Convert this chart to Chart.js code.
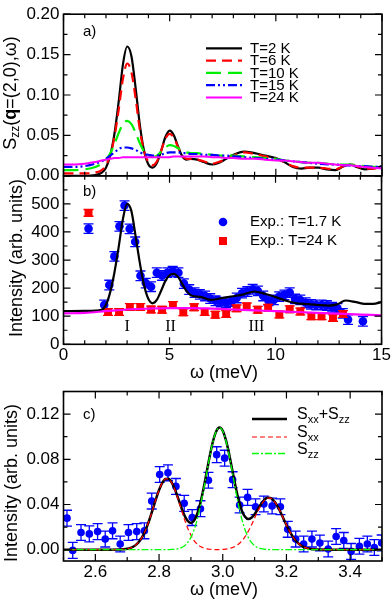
<!DOCTYPE html>
<html>
<head>
<meta charset="utf-8">
<script src="https://cdn.jsdelivr.net/npm/chart.js@4.4.1/dist/chart.umd.min.js"></script>
<style>
  html, body { margin: 0; padding: 0; background: #fff; }
  #wrap { position: relative; width: 392px; height: 600px; }
  #wrap canvas { position: absolute; left: 0; top: 0; }
</style>
</head>
<body>
<div id="wrap">
  <canvas id="chartA" width="392" height="600"></canvas>
  <canvas id="chartB" width="392" height="600"></canvas>
  <canvas id="chartC" width="392" height="600"></canvas>
</div>
<script>
// ─────────────────────────────────────────
// DATOS  panel a) S_zz(q=(2,0),ω)
// ─────────────────────────────────────────
const omegaA = [0, 0.5, 1.0, 1.5, 1.8, 2.0, 2.2, 2.4, 2.6, 2.8, 3.0, 3.2, 3.4, 3.6, 3.8, 4.0, 4.2, 4.4, 4.6, 4.8,
  5.0, 5.2, 5.4, 5.6, 5.8, 6.0, 6.3, 6.6, 7.0, 7.3, 7.6, 8.0, 8.5, 9.0, 9.5, 10.0, 10.4, 10.8, 11.2, 11.6,
  12.0, 12.4, 12.8, 13.2, 13.5, 13.8, 14.2, 14.6, 15.0];
const szzT2 = [0, 0, 0, 0.001, 0.004, 0.010, 0.025, 0.052, 0.092, 0.138, 0.160, 0.148, 0.108, 0.062, 0.030, 0.014, 0.010, 0.016, 0.031, 0.048,
  0.056, 0.050, 0.036, 0.024, 0.020, 0.021, 0.020, 0.017, 0.014, 0.016, 0.020, 0.026, 0.030, 0.028, 0.025, 0.022, 0.017, 0.011, 0.009, 0.010,
  0.010, 0.008, 0.007, 0.012, 0.014, 0.011, 0.008, 0.009, 0.012];
const szzT6 = [0.003, 0.003, 0.003, 0.004, 0.007, 0.013, 0.026, 0.048, 0.082, 0.120, 0.139, 0.128, 0.095, 0.056, 0.030, 0.017, 0.013, 0.018, 0.031, 0.046,
  0.052, 0.047, 0.035, 0.025, 0.021, 0.021, 0.020, 0.018, 0.015, 0.017, 0.020, 0.025, 0.029, 0.027, 0.024, 0.021, 0.017, 0.012, 0.010, 0.010,
  0.010, 0.009, 0.008, 0.012, 0.014, 0.012, 0.009, 0.009, 0.012];
const szzT10 = [0.007, 0.007, 0.008, 0.011, 0.015, 0.020, 0.028, 0.039, 0.053, 0.064, 0.068, 0.064, 0.053, 0.040, 0.030, 0.025, 0.023, 0.025, 0.030, 0.035,
  0.038, 0.037, 0.034, 0.031, 0.029, 0.028, 0.028, 0.027, 0.026, 0.025, 0.025, 0.025, 0.024, 0.023, 0.022, 0.021, 0.019, 0.018, 0.017, 0.016,
  0.016, 0.015, 0.014, 0.014, 0.014, 0.013, 0.012, 0.011, 0.011];
const szzT15 = [0.011, 0.011, 0.012, 0.015, 0.018, 0.021, 0.025, 0.029, 0.033, 0.035, 0.035, 0.034, 0.032, 0.029, 0.027, 0.026, 0.025, 0.025, 0.026, 0.028,
  0.029, 0.029, 0.029, 0.028, 0.028, 0.027, 0.027, 0.026, 0.026, 0.025, 0.025, 0.024, 0.023, 0.022, 0.021, 0.020, 0.019, 0.018, 0.017, 0.016,
  0.015, 0.014, 0.014, 0.013, 0.013, 0.012, 0.012, 0.011, 0.011];
const szzT24 = [0.014, 0.014, 0.015, 0.017, 0.019, 0.020, 0.021, 0.022, 0.022, 0.023, 0.023, 0.023, 0.023, 0.023, 0.023, 0.023, 0.023, 0.023, 0.023, 0.023,
  0.023, 0.024, 0.024, 0.024, 0.024, 0.024, 0.024, 0.024, 0.023, 0.023, 0.022, 0.022, 0.021, 0.021, 0.020, 0.019, 0.019, 0.018, 0.017, 0.016,
  0.016, 0.015, 0.014, 0.013, 0.013, 0.012, 0.011, 0.010, 0.009];
const yTicksA = [0, 0.05, 0.10, 0.15, 0.20];
const xTicksA = [0, 5, 10, 15];

// ─────────────────────────────────────────
// DATOS  panel b) intensidad experimental
// ─────────────────────────────────────────
const omegaBfit = [0, 1.0, 1.5, 1.8, 2.0, 2.2, 2.4, 2.6, 2.8, 3.0, 3.2, 3.4, 3.6, 3.8, 4.0, 4.2, 4.4, 4.6, 4.8, 5.0,
  5.2, 5.4, 5.6, 5.8, 6.0, 6.5, 7.0, 7.5, 8.0, 8.5, 9.0, 9.5, 10.0, 10.5, 11.0, 11.5, 12.0, 12.5, 12.9, 13.3,
  13.8, 14.2, 14.6, 15.0];
const intBfit = [118, 119, 120, 123, 140, 185, 255, 345, 445, 500, 475, 385, 290, 210, 162, 146, 158, 190, 225, 246,
  251, 240, 215, 190, 175, 168, 158, 165, 171, 178, 188, 180, 168, 155, 146, 143, 140, 138, 142, 156,
  150, 144, 144, 150];
const omegaBbg = [0, 1, 2, 3, 4, 5, 6, 7, 8, 9, 10, 11, 12, 13, 14, 15];
const intBbg = [110, 112, 118, 124, 127, 129, 129, 127, 124, 121, 118, 115, 112, 109, 106, 103];

const omegaB17 = [1.18, 1.92, 2.16, 2.40, 2.64, 2.88, 3.12, 3.38, 3.63, 3.88, 4.13, 4.40, 4.65, 4.90, 5.15, 5.42, 5.68, 5.93, 6.18, 6.43,
  6.68, 6.92, 7.17, 7.42, 7.67, 7.92, 8.17, 8.42, 8.67, 8.92, 9.17, 9.42, 9.67, 9.92, 10.17, 10.42, 10.67, 10.92, 11.17, 11.42,
  11.67, 11.92, 12.17, 12.42, 12.67, 12.92, 13.17, 13.42, 14.12];
const intB17 = [412, 140, 211, 313, 420, 494, 411, 365, 244, 218, 205, 255, 245, 255, 260, 255, 216, 195, 184, 178,
  172, 163, 155, 150, 148, 152, 165, 182, 188, 196, 190, 172, 155, 158, 170, 176, 184, 162, 158, 148,
  142, 140, 140, 138, 132, 128, 110, 88, 82];
const errB17 = intB17.map(() => 17);

const omegaB24 = [1.18, 2.10, 2.62, 3.13, 3.62, 4.13, 4.65, 5.16, 5.65, 6.16, 6.66, 7.16, 7.67, 8.16, 8.64, 9.16, 9.65, 10.18, 10.67, 11.17,
  11.69, 12.17, 12.71, 13.18];
const intB24 = [468, 115, 115, 133, 133, 124, 123, 140, 114, 132, 115, 105, 108, 128, 135, 123, 130, 106, 125, 117,
  100, 100, 94, 108];
const errB24 = intB24.map(() => 12);
const yTicksB = [0, 100, 200, 300, 400, 500];
const xTicksB = [0, 5, 10, 15];

// ─────────────────────────────────────────
// DATOS  panel c) ajuste S_xx + S_zz
// ─────────────────────────────────────────
const omegaC = [2.50, 2.55, 2.60, 2.65,
  2.70, 2.71, 2.72, 2.73, 2.74, 2.75, 2.76, 2.77, 2.78, 2.79, 2.80, 2.81, 2.82, 2.83, 2.84, 2.85, 2.86, 2.87, 2.88, 2.89,
  2.90, 2.91, 2.92, 2.93, 2.94, 2.95, 2.96, 2.97, 2.98, 2.99, 3.00, 3.01, 3.02, 3.03, 3.04, 3.05, 3.06, 3.07, 3.08, 3.09,
  3.10, 3.11, 3.12, 3.13, 3.14, 3.15, 3.16, 3.17, 3.18, 3.19, 3.20, 3.21, 3.22, 3.23, 3.24, 3.25, 3.26, 3.27, 3.28, 3.29,
  3.30, 3.35, 3.40, 3.45, 3.50];
const sxxC = [0, 0, 0, 0,
  0.0008, 0.0015, 0.0028, 0.0049, 0.0081, 0.0128, 0.0190, 0.0267, 0.0355, 0.0445, 0.0528, 0.0591, 0.0626, 0.0626, 0.0591, 0.0528, 0.0445, 0.0355, 0.0267, 0.0190,
  0.0128, 0.0081, 0.0049, 0.0028, 0.0015, 0.0008, 0.0004, 0.0002, 0.0001, 0.0001, 0.0003, 0.0005, 0.0010, 0.0018, 0.0030, 0.0050, 0.0077, 0.0115, 0.0162, 0.0218,
  0.0279, 0.0340, 0.0394, 0.0435, 0.0457, 0.0457, 0.0435, 0.0394, 0.0340, 0.0279, 0.0218, 0.0162, 0.0115, 0.0077, 0.0050, 0.0030, 0.0018, 0.0010, 0.0005, 0.0003,
  0.0001, 0, 0, 0, 0];
const szzC = [0, 0, 0, 0,
  0, 0, 0, 0, 0, 0, 0, 0, 0, 0, 0, 0, 0, 0.0001, 0.0002, 0.0004, 0.0009, 0.0018, 0.0035, 0.0064,
  0.0109, 0.0176, 0.0269, 0.0389, 0.0532, 0.0686, 0.0837, 0.0964, 0.1050, 0.1080, 0.1050, 0.0964, 0.0837, 0.0686, 0.0532, 0.0389, 0.0269, 0.0176, 0.0109, 0.0064,
  0.0035, 0.0018, 0.0009, 0.0004, 0.0002, 0.0001, 0, 0, 0, 0, 0, 0, 0, 0, 0, 0, 0, 0, 0, 0,
  0, 0, 0, 0, 0];
const sumC = [0, 0, 0, 0,
  0.0008, 0.0015, 0.0028, 0.0049, 0.0081, 0.0128, 0.0190, 0.0267, 0.0355, 0.0445, 0.0528, 0.0591, 0.0626, 0.0627, 0.0593, 0.0532, 0.0454, 0.0373, 0.0302, 0.0254,
  0.0237, 0.0257, 0.0318, 0.0417, 0.0547, 0.0694, 0.0841, 0.0966, 0.1051, 0.1081, 0.1053, 0.0969, 0.0847, 0.0704, 0.0562, 0.0439, 0.0346, 0.0291, 0.0271, 0.0282,
  0.0314, 0.0358, 0.0403, 0.0439, 0.0459, 0.0458, 0.0435, 0.0394, 0.0340, 0.0279, 0.0218, 0.0162, 0.0115, 0.0077, 0.0050, 0.0030, 0.0018, 0.0010, 0.0005, 0.0003,
  0.0001, 0, 0, 0, 0];

const omegaCexp = [2.511, 2.529, 2.555, 2.581, 2.607, 2.631, 2.654, 2.678, 2.704, 2.730, 2.754, 2.777, 2.802, 2.828, 2.853, 2.879, 2.904, 2.930, 2.955, 2.981,
  3.006, 3.031, 3.053, 3.078, 3.103, 3.129, 3.155, 3.181, 3.204, 3.229, 3.254, 3.280, 3.305, 3.331, 3.356, 3.380, 3.403, 3.429, 3.454, 3.476, 3.499];
const intCexp = [0.0279, -0.0006, 0.0152, 0.0140, 0.0160, 0.0094, 0.0167, 0.0050, 0.0152, 0.0160, 0.0167, 0.0430, 0.0665, 0.0680, 0.0560, 0.0410, 0.0284, 0.0363, 0.0615, 0.0841,
  0.0810, 0.0620, 0.0396, 0.0463, 0.0380, 0.0404, 0.0387, 0.0380, 0.0180, 0.0094, 0.0050, 0.0094, 0.0059, 0.0006, 0.0117, 0.0082, -0.0015, 0.0030, 0.0050, 0.0020, 0.0060];
const errCexp = intCexp.map(() => 0.007);
const yTicksC = [0, 0.04, 0.08, 0.12];
const xTicksC = [2.6, 2.8, 3.0, 3.2, 3.4];

// ─────────────────────────────────────────
// ESTILO
// ─────────────────────────────────────────
const FONT  = "'Liberation Sans', Arial, Helvetica, sans-serif";
const SERIF = "'Liberation Serif', 'Times New Roman', serif";
const RED = "#ff0000", GREEN = "#00ee00", BLUE = "#0000ff", MAGENTA = "#ff00ff";
const DASH = { t6: [10, 6], t10: [15, 7], t15: [9, 3, 2, 3, 2, 3], sxx: [5, 3], szz: [7, 2, 2, 2] };

const pts = (xs, ys) => xs.map((x, i) => ({ x, y: ys[i] }));

function curva(xs, ys, color, width, dash) {
  return {
    data: pts(xs, ys), showLine: true, borderColor: color, borderWidth: width,
    borderDash: dash || [], pointRadius: 0, cubicInterpolationMode: "monotone", fill: false
  };
}

function puntos(xs, ys, errs, color, style, r) {
  return {
    data: pts(xs, ys), errors: errs, showLine: false, pointStyle: style, pointRadius: r,
    backgroundColor: color, borderColor: color, borderWidth: 0
  };
}

// marcas hacia adentro + marco del área
const marco = {
  id: "marco",
  afterDraw(chart, args, o) {
    const { ctx, chartArea: a } = chart;
    const sx = chart.scales.x, sy = chart.scales.y;
    const esMayor = (list, v) => list.some(m => Math.abs(m - v) < 1e-6);
    ctx.save();
    ctx.strokeStyle = "#000";
    ctx.lineWidth = 1.2;
    ctx.beginPath();
    for (let i = Math.ceil(sx.min / o.xStep - 1e-6); i * o.xStep <= sx.max + 1e-6; i++) {
      const v = i * o.xStep, L = esMayor(o.xMajor, v) ? 7 : 4;
      const p = sx.getPixelForValue(v);
      ctx.moveTo(p, a.bottom); ctx.lineTo(p, a.bottom - L);
      ctx.moveTo(p, a.top);    ctx.lineTo(p, a.top + L);
    }
    for (let i = Math.ceil(sy.min / o.yStep - 1e-6); i * o.yStep <= sy.max + 1e-6; i++) {
      const v = i * o.yStep, L = esMayor(o.yMajor, v) ? 7 : 4;
      const p = sy.getPixelForValue(v);
      ctx.moveTo(a.left, p);  ctx.lineTo(a.left + L, p);
      ctx.moveTo(a.right, p); ctx.lineTo(a.right - L, p);
    }
    ctx.stroke();
    ctx.lineWidth = 1.6;
    ctx.strokeRect(a.left, a.top, a.right - a.left, a.bottom - a.top);
    ctx.restore();
  }
};

// barras de error
const barrasError = {
  id: "barrasError",
  afterDatasetDraw(chart, args) {
    const ds = chart.data.datasets[args.index];
    if (!ds.errors) return;
    const { ctx, chartArea: a } = chart;
    const sy = chart.scales.y;
    ctx.save();
    ctx.beginPath();
    ctx.rect(a.left, a.top, a.right - a.left, a.bottom - a.top);
    ctx.clip();
    ctx.strokeStyle = ds.borderColor;
    ctx.lineWidth = 1.3;
    ctx.beginPath();
    args.meta.data.forEach((pt, i) => {
      const v = ds.data[i].y, e = ds.errors[i];
      const y1 = sy.getPixelForValue(v + e), y2 = sy.getPixelForValue(v - e);
      ctx.moveTo(pt.x, y1); ctx.lineTo(pt.x, y2);
      ctx.moveTo(pt.x - 5, y1); ctx.lineTo(pt.x + 5, y1);
      ctx.moveTo(pt.x - 5, y2); ctx.lineTo(pt.x + 5, y2);
    });
    ctx.stroke();
    ctx.restore();
  }
};

// texto con subíndices / negritas
function textoRico(ctx, partes, x, y, rotar) {
  ctx.save();
  ctx.translate(x, y);
  if (rotar) ctx.rotate(-Math.PI / 2);
  ctx.textBaseline = "middle";
  ctx.textAlign = "left";
  ctx.fillStyle = "#000";
  let w = 0;
  partes.forEach(p => { ctx.font = p.f; w += ctx.measureText(p.t).width; });
  let pos = rotar ? -w / 2 : 0;
  partes.forEach(p => {
    ctx.font = p.f;
    ctx.fillText(p.t, pos, p.dy || 0);
    pos += ctx.measureText(p.t).width;
  });
  ctx.restore();
}

function texto(ctx, s, x, y, font, align) {
  ctx.save();
  ctx.font = font;
  ctx.fillStyle = "#000";
  ctx.textAlign = align || "left";
  ctx.textBaseline = "middle";
  ctx.fillText(s, x, y);
  ctx.restore();
}

function tramo(ctx, x1, x2, y, color, width, dash) {
  ctx.save();
  ctx.strokeStyle = color;
  ctx.lineWidth = width;
  ctx.setLineDash(dash || []);
  ctx.beginPath();
  ctx.moveTo(x1, y); ctx.lineTo(x2, y);
  ctx.stroke();
  ctx.restore();
}

function ejes(o) {
  return {
    x: {
      type: "linear", min: o.xMin, max: o.xMax,
      grid: { display: false, drawTicks: false }, border: { display: false },
      afterBuildTicks: s => { s.ticks = o.xTicks.map(v => ({ value: v })); },
      afterFit: s => { s.height = o.xH; },
      ticks: { display: o.xLabels, font: { family: FONT, size: 17 }, color: "#000", padding: 1,
               autoSkip: false, maxRotation: 0, callback: o.xFmt }
    },
    y: {
      type: "linear", min: o.yMin, max: o.yMax,
      grid: { display: false, drawTicks: false }, border: { display: false },
      afterBuildTicks: s => { s.ticks = o.yTicks.map(v => ({ value: v })); },
      afterFit: s => { s.width = 63.5; },
      ticks: { font: { family: FONT, size: 17 }, color: "#000", padding: 4, autoSkip: false, callback: o.yFmt }
    }
  };
}

function opciones(o, marcoOpts) {
  return {
    responsive: false, animation: false, devicePixelRatio: 1,
    layout: { padding: { left: 0, right: 10, top: o.top, bottom: 600 - o.bottom - o.xH } },
    scales: ejes(o),
    plugins: { legend: { display: false }, tooltip: { enabled: false }, marco: marcoOpts }
  };
}

// ─────────────────────────────────────────
// PANEL a)
// ─────────────────────────────────────────
new Chart(document.getElementById("chartA"), {
  type: "scatter",
  data: {
    datasets: [
      curva(omegaA, szzT24, MAGENTA, 2),
      curva(omegaA, szzT15, BLUE, 2.2, DASH.t15),
      curva(omegaA, szzT10, GREEN, 2.2, DASH.t10),
      curva(omegaA, szzT6, RED, 2.2, DASH.t6),
      curva(omegaA, szzT2, "#000", 2.2)
    ]
  },
  options: opciones(
    { top: 7, bottom: 175.8, xH: 0, xMin: 0, xMax: 15, yMin: 0, yMax: 0.2,
      xTicks: xTicksA, yTicks: yTicksA, xLabels: false, yFmt: v => v.toFixed(2) },
    { xStep: 1, xMajor: xTicksA, yStep: 0.025, yMajor: yTicksA }),
  plugins: [marco, {
    id: "decoA",
    afterDraw(chart) {
      const ctx = chart.ctx;
      texto(ctx, "a)", 83, 32, `15px ${FONT}`);
      const filas = [
        ["T=2 K", "#000", 2.2, []],
        ["T=6 K", RED, 2.2, DASH.t6],
        ["T=10 K", GREEN, 2.2, DASH.t10],
        ["T=15 K", BLUE, 2.2, DASH.t15],
        ["T=24 K", MAGENTA, 2, []]
      ];
      filas.forEach((f, i) => {
        const y = 48.3 + i * 12.3;
        tramo(ctx, 206, 242, y, f[1], f[2], f[3]);
        texto(ctx, f[0], 250, y + 0.5, `15px ${FONT}`);
      });
      textoRico(ctx, [
        { t: "S", f: `18px ${FONT}` },
        { t: "zz", f: `12px ${FONT}`, dy: 5 },
        { t: "(", f: `18px ${FONT}` },
        { t: "q", f: `bold 18px ${FONT}` },
        { t: "=(2,0),ω)", f: `18px ${FONT}` }
      ], 11, 93, true);
    }
  }]
});

// ─────────────────────────────────────────
// PANEL b)
// ─────────────────────────────────────────
new Chart(document.getElementById("chartB"), {
  type: "scatter",
  data: {
    datasets: [
      curva(omegaBbg, intBbg, MAGENTA, 2.2),
      curva(omegaBfit, intBfit, "#000", 2.2),
      puntos(omegaB24, intB24, errB24, RED, "rect", 5.6),
      puntos(omegaB17, intB17, errB17, BLUE, "circle", 4.3)
    ]
  },
  options: opciones(
    { top: 175.8, bottom: 344.3, xH: 30, xMin: 0, xMax: 15, yMin: 0, yMax: 600,
      xTicks: xTicksB, yTicks: yTicksB, xLabels: true, xFmt: v => String(v), yFmt: v => String(v) },
    { xStep: 1, xMajor: xTicksB, yStep: 50, yMajor: yTicksB.concat([600]) }),
  plugins: [marco, barrasError, {
    id: "decoB",
    afterDraw(chart) {
      const ctx = chart.ctx;
      texto(ctx, "b)", 83, 192, `15px ${FONT}`);
      ctx.save();
      ctx.fillStyle = BLUE;
      ctx.beginPath(); ctx.arc(223, 222, 4.3, 0, Math.PI * 2); ctx.fill();
      ctx.fillStyle = RED;
      ctx.fillRect(219, 237, 8, 8);
      ctx.restore();
      texto(ctx, "Exp.: T=1.7 K", 250, 222, `15px ${FONT}`);
      texto(ctx, "Exp.: T=24 K", 250, 241, `15px ${FONT}`);
      const sx = chart.scales.x;
      texto(ctx, "I", sx.getPixelForValue(3.0), 327, `16px ${SERIF}`, "center");
      texto(ctx, "II", sx.getPixelForValue(5.05), 327, `16px ${SERIF}`, "center");
      texto(ctx, "III", sx.getPixelForValue(9.1), 327, `16px ${SERIF}`, "center");
      textoRico(ctx, [{ t: "Intensity (arb. units)", f: `18px ${FONT}` }], 17, 258, true);
      texto(ctx, "ω (meV)", 224, 373, `18px ${FONT}`, "center");
    }
  }]
});

// ─────────────────────────────────────────
// PANEL c)
// ─────────────────────────────────────────
new Chart(document.getElementById("chartC"), {
  type: "scatter",
  data: {
    datasets: [
      curva(omegaC, szzC, "#00ff00", 1.3, DASH.szz),
      curva(omegaC, sxxC, RED, 1.2, DASH.sxx),
      curva(omegaC, sumC, "#000", 2.5),
      puntos(omegaCexp, intCexp, errCexp, BLUE, "circle", 3.8)
    ]
  },
  options: opciones(
    { top: 391.5, bottom: 561, xH: 30, xMin: 2.5, xMax: 3.5, yMin: -0.01, yMax: 0.14,
      xTicks: xTicksC, yTicks: yTicksC, xLabels: true, xFmt: v => v.toFixed(1), yFmt: v => v.toFixed(2) },
    { xStep: 0.1, xMajor: xTicksC, yStep: 0.02, yMajor: yTicksC }),
  plugins: [marco, barrasError, {
    id: "decoC",
    afterDraw(chart) {
      const ctx = chart.ctx;
      texto(ctx, "c)", 83, 415, `15px ${FONT}`);
      tramo(ctx, 252, 287, 419, "#000", 2.5);
      tramo(ctx, 252, 287, 437, RED, 1.2, DASH.sxx);
      tramo(ctx, 252, 287, 453.5, "#00ff00", 1.3, DASH.szz);
      const big = `16px ${FONT}`, sub = `11px ${FONT}`;
      textoRico(ctx, [{ t: "S", f: big }, { t: "xx", f: sub, dy: 5 }, { t: "+S", f: big }, { t: "zz", f: sub, dy: 5 }], 297, 415);
      textoRico(ctx, [{ t: "S", f: big }, { t: "xx", f: sub, dy: 5 }], 297, 433);
      textoRico(ctx, [{ t: "S", f: big }, { t: "zz", f: sub, dy: 5 }], 297, 450);
      textoRico(ctx, [{ t: "Intensity (arb. units)", f: `18px ${FONT}` }], 12, 483, true);
      texto(ctx, "ω (meV)", 224, 590, `18px ${FONT}`, "center");
    }
  }]
});
</script>
</body>
</html>
